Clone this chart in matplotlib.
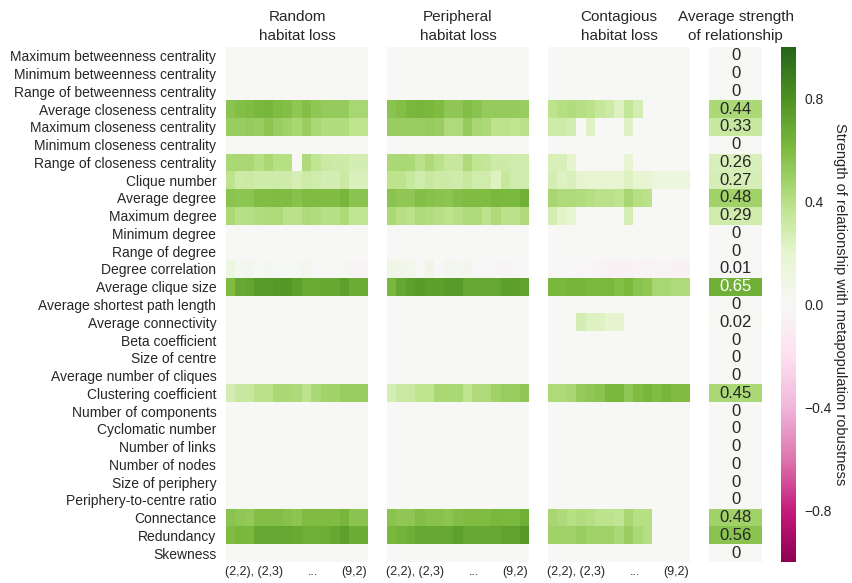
import numpy as np
import matplotlib
matplotlib.use("Agg")
import matplotlib.pyplot as plt
from matplotlib.colors import Normalize

plt.rcParams['font.family'] = ['Liberation Sans', 'DejaVu Sans']

metrics = [
    "Maximum betweenness centrality", "Minimum betweenness centrality",
    "Range of betweenness centrality", "Average closeness centrality",
    "Maximum closeness centrality", "Minimum closeness centrality",
    "Range of closeness centrality", "Clique number", "Average degree",
    "Maximum degree", "Minimum degree", "Range of degree",
    "Degree correlation", "Average clique size",
    "Average shortest path length", "Average connectivity",
    "Beta coefficient", "Size of centre", "Average number of cliques",
    "Clustering coefficient", "Number of components", "Cyclomatic number",
    "Number of links", "Number of nodes", "Size of periphery",
    "Periphery-to-centre ratio", "Connectance", "Redundancy", "Skewness",
]

n_combos = 15
x_tick_pos = [3.0, 9.2, 13.5]
x_tick_labels = ["(2,2), (2,3)", "...", "(9,2)"]

# Strength of relationship per metric and parameter combination;
# metrics not listed have a strength of 0 for every combination.
random_loss = {
    "Average closeness centrality": [0.56, 0.58, 0.60, 0.62, 0.63, 0.60, 0.58, 0.54, 0.58, 0.54, 0.52, 0.52, 0.52, 0.46, 0.46],
    "Maximum closeness centrality": [0.50, 0.50, 0.52, 0.50, 0.55, 0.50, 0.48, 0.46, 0.50, 0.45, 0.42, 0.42, 0.42, 0.37, 0.37],
    "Range of closeness centrality": [0.45, 0.45, 0.45, 0.41, 0.45, 0.40, 0.40, 0.00, 0.43, 0.36, 0.32, 0.31, 0.31, 0.28, 0.28],
    "Clique number": [0.38, 0.31, 0.32, 0.30, 0.30, 0.30, 0.29, 0.27, 0.31, 0.29, 0.28, 0.28, 0.32, 0.25, 0.25],
    "Average degree": [0.56, 0.55, 0.55, 0.59, 0.59, 0.60, 0.60, 0.57, 0.60, 0.60, 0.60, 0.60, 0.63, 0.56, 0.56],
    "Maximum degree": [0.45, 0.40, 0.40, 0.42, 0.43, 0.43, 0.39, 0.39, 0.43, 0.42, 0.40, 0.40, 0.43, 0.36, 0.36],
    "Degree correlation": [0.12, 0.04, 0.05, 0.03, 0.04, 0.02, 0.03, 0.03, 0.05, 0.01, -0.02, 0.02, 0.02, -0.03, -0.03],
    "Average clique size": [0.60, 0.69, 0.71, 0.75, 0.75, 0.77, 0.77, 0.73, 0.68, 0.68, 0.69, 0.69, 0.73, 0.67, 0.67],
    "Clustering coefficient": [0.28, 0.33, 0.33, 0.39, 0.39, 0.45, 0.45, 0.43, 0.38, 0.44, 0.48, 0.48, 0.51, 0.51, 0.51],
    "Connectance": [0.56, 0.54, 0.53, 0.58, 0.58, 0.58, 0.57, 0.55, 0.60, 0.60, 0.60, 0.60, 0.63, 0.56, 0.56],
    "Redundancy": [0.60, 0.62, 0.62, 0.69, 0.70, 0.70, 0.70, 0.68, 0.66, 0.66, 0.67, 0.70, 0.73, 0.67, 0.67],
}

peripheral_loss = {
    "Average closeness centrality": [0.56, 0.58, 0.62, 0.63, 0.62, 0.60, 0.54, 0.54, 0.58, 0.56, 0.52, 0.52, 0.52, 0.52, 0.50],
    "Maximum closeness centrality": [0.50, 0.50, 0.50, 0.50, 0.52, 0.50, 0.43, 0.43, 0.52, 0.46, 0.44, 0.38, 0.38, 0.36, 0.39],
    "Range of closeness centrality": [0.44, 0.45, 0.44, 0.39, 0.43, 0.39, 0.34, 0.34, 0.43, 0.36, 0.35, 0.31, 0.31, 0.29, 0.29],
    "Clique number": [0.38, 0.38, 0.33, 0.29, 0.33, 0.31, 0.31, 0.29, 0.33, 0.29, 0.29, 0.24, 0.34, 0.29, 0.29],
    "Average degree": [0.56, 0.54, 0.54, 0.58, 0.57, 0.56, 0.55, 0.58, 0.60, 0.60, 0.60, 0.62, 0.61, 0.61, 0.66],
    "Maximum degree": [0.45, 0.41, 0.39, 0.43, 0.42, 0.40, 0.38, 0.40, 0.43, 0.43, 0.38, 0.43, 0.39, 0.39, 0.43],
    "Degree correlation": [0.09, 0.07, 0.06, 0.01, 0.08, 0.00, 0.05, 0.04, 0.05, 0.01, -0.02, 0.01, -0.03, -0.01, 0.00],
    "Average clique size": [0.62, 0.70, 0.73, 0.75, 0.73, 0.73, 0.75, 0.75, 0.69, 0.70, 0.69, 0.70, 0.73, 0.73, 0.72],
    "Clustering coefficient": [0.28, 0.32, 0.32, 0.37, 0.37, 0.45, 0.45, 0.45, 0.37, 0.43, 0.43, 0.48, 0.51, 0.51, 0.54],
    "Connectance": [0.56, 0.54, 0.54, 0.58, 0.57, 0.57, 0.55, 0.58, 0.60, 0.60, 0.60, 0.62, 0.61, 0.61, 0.66],
    "Redundancy": [0.62, 0.64, 0.66, 0.70, 0.69, 0.69, 0.69, 0.73, 0.69, 0.69, 0.69, 0.70, 0.72, 0.72, 0.76],
}

contagious_loss = {
    "Average closeness centrality": [0.38, 0.41, 0.42, 0.41, 0.39, 0.34, 0.31, 0.24, 0.35, 0.28, 0.00, 0.00, 0.00, 0.00, 0.00],
    "Maximum closeness centrality": [0.30, 0.30, 0.28, 0.00, 0.23, 0.00, 0.00, 0.00, 0.23, 0.00, 0.00, 0.00, 0.00, 0.00, 0.00],
    "Range of closeness centrality": [0.26, 0.26, 0.20, 0.00, 0.00, 0.00, 0.00, 0.00, 0.18, 0.00, 0.00, 0.00, 0.00, 0.00, 0.00],
    "Clique number": [0.28, 0.24, 0.25, 0.20, 0.19, 0.18, 0.18, 0.18, 0.24, 0.19, 0.18, 0.14, 0.14, 0.14, 0.13],
    "Average degree": [0.46, 0.43, 0.43, 0.42, 0.41, 0.39, 0.39, 0.37, 0.46, 0.40, 0.39, 0.00, 0.00, 0.00, 0.00],
    "Maximum degree": [0.28, 0.22, 0.19, 0.00, 0.00, 0.00, 0.00, 0.00, 0.27, 0.00, 0.00, 0.00, 0.00, 0.00, 0.00],
    "Degree correlation": [0.00, -0.01, 0.00, -0.02, -0.02, -0.03, -0.05, -0.04, -0.04, -0.03, -0.04, -0.03, -0.03, -0.05, -0.04],
    "Average clique size": [0.62, 0.62, 0.64, 0.64, 0.62, 0.61, 0.62, 0.58, 0.61, 0.56, 0.54, 0.46, 0.46, 0.43, 0.43],
    "Average connectivity": [0.00, 0.00, 0.00, 0.28, 0.24, 0.23, 0.20, 0.20, 0.00, 0.00, 0.00, 0.00, 0.00, 0.00, 0.00],
    "Clustering coefficient": [0.43, 0.43, 0.46, 0.52, 0.54, 0.56, 0.62, 0.62, 0.54, 0.60, 0.63, 0.60, 0.63, 0.60, 0.60],
    "Connectance": [0.46, 0.43, 0.40, 0.42, 0.41, 0.38, 0.38, 0.36, 0.46, 0.40, 0.40, 0.00, 0.00, 0.00, 0.00],
    "Redundancy": [0.48, 0.48, 0.48, 0.51, 0.48, 0.48, 0.48, 0.44, 0.50, 0.44, 0.41, 0.00, 0.00, 0.00, 0.00],
}

avg_strength = [0, 0, 0, 0.44, 0.33, 0, 0.26, 0.27, 0.48, 0.29, 0, 0, 0.01, 0.65,
                0, 0.02, 0, 0, 0, 0.45, 0, 0, 0, 0, 0, 0, 0.48, 0.56, 0]

panel_titles = ["Random\nhabitat loss", "Peripheral\nhabitat loss",
                "Contagious\nhabitat loss", "Average strength\nof relationship"]
cbar_label = "Strength of relationship with metapopulation robustness"


def to_matrix(table):
    return np.array([table.get(m, [0.0] * n_combos) for m in metrics])


W, H = 852, 583
fig = plt.figure(figsize=(W / 100, H / 100), dpi=100)
cmap = plt.get_cmap("PiYG")
norm = Normalize(vmin=-1, vmax=1)


def px_axes(left, top, width, height):
    return fig.add_axes([left / W, (H - top - height) / H, width / W, height / H])


top, height = 47, 515
panel_lefts = [226, 387, 548]
n_rows = len(metrics)
title_kw = dict(fontsize=11, pad=5, color="#262626", linespacing=1.45)

for i, (table, left) in enumerate(zip([random_loss, peripheral_loss, contagious_loss], panel_lefts)):
    ax = px_axes(left, top, 142, height)
    mat = to_matrix(table)
    ax.pcolormesh(np.arange(n_combos + 1), np.arange(n_rows + 1), mat,
                  cmap=cmap, norm=norm, edgecolors="none")
    ax.set_xlim(0, n_combos)
    ax.set_ylim(n_rows, 0)
    for s in ax.spines.values():
        s.set_visible(False)
    ax.set_xticks(x_tick_pos)
    ax.set_xticklabels(x_tick_labels, fontsize=9, color="#262626")
    ax.tick_params(axis="x", length=0, pad=3)
    if i == 0:
        ax.set_yticks(np.arange(n_rows) + 0.5)
        ax.set_yticklabels(metrics, fontsize=10, color="#262626")
        ax.tick_params(axis="y", length=0, pad=7)
    else:
        ax.set_yticks([])
    ax.set_title(panel_titles[i], **title_kw)

# Average strength column with annotated values
ax4 = px_axes(709, top, 53, height)
avg = np.array(avg_strength).reshape(-1, 1)
ax4.pcolormesh([0, 1], np.arange(n_rows + 1), avg, cmap=cmap, norm=norm, edgecolors="none")
ax4.set_xlim(0, 1)
ax4.set_ylim(n_rows, 0)
for s in ax4.spines.values():
    s.set_visible(False)
ax4.set_xticks([])
ax4.set_yticks([])
ax4.set_title(panel_titles[3], **title_kw)
for r, v in enumerate(avg_strength):
    rgb = np.array(cmap(norm(v))[:3])
    lum = 0.2126 * rgb[0] + 0.7152 * rgb[1] + 0.0722 * rgb[2]
    col = "white" if lum < 0.408 or v >= 0.6 else "#262626"
    ax4.text(0.5, r + 0.5, f"{v:g}", ha="center", va="center", fontsize=12, color=col)

# Colour bar
cax = px_axes(781, top, 15, height)
sm = matplotlib.cm.ScalarMappable(norm=norm, cmap=cmap)
cb = fig.colorbar(sm, cax=cax)
cb.outline.set_visible(False)
cb.set_ticks([-0.8, -0.4, 0.0, 0.4, 0.8])
cb.ax.tick_params(length=0, pad=6, labelsize=10, colors="#262626")
cb.set_label(cbar_label, rotation=270, labelpad=11, fontsize=10.5, color="#262626")

fig.savefig("out.png", dpi=100)
